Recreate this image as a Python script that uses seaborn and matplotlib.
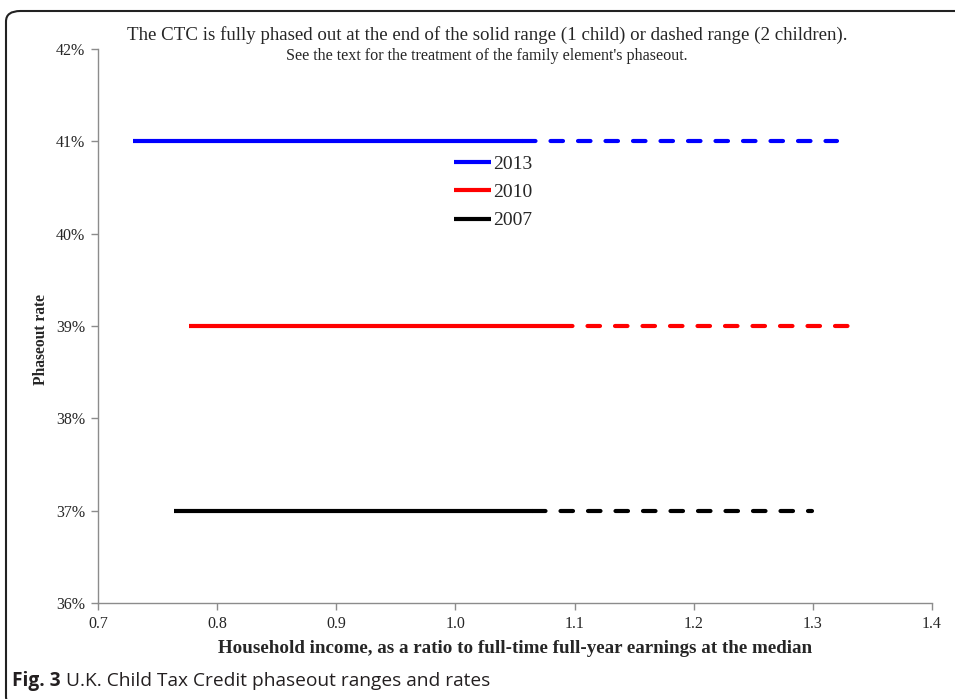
import matplotlib
matplotlib.use("Agg")
import matplotlib.pyplot as plt
import seaborn as sns
import pandas as pd
from matplotlib.patches import FancyBboxPatch
from matplotlib.ticker import PercentFormatter

# phaseout ranges
years = ["2013", "2010", "2007"]
rates = [0.41, 0.39, 0.37]
starts = [0.729, 0.776, 0.764]
one_child_end = [1.057, 1.088, 1.065]
two_children_end = [1.320, 1.330, 1.299]
colors = ["#0000ff", "#ff0000", "#000000"]

x_ticks = [0.7, 0.8, 0.9, 1.0, 1.1, 1.2, 1.3, 1.4]
y_ticks = [0.36, 0.37, 0.38, 0.39, 0.40, 0.41, 0.42]

sns.set_style("white")
plt.rcParams["font.family"] = ["Liberation Serif", "DejaVu Serif"]

fig = plt.figure(figsize=(9.55, 6.99), dpi=100)
ax = fig.add_axes([98 / 955, 1 - 603 / 699, 834 / 955, 554 / 699])

for i, yr in enumerate(years):
    solid = pd.DataFrame({"income": [starts[i], one_child_end[i]],
                          "rate": [rates[i], rates[i]]})
    dashed = pd.DataFrame({"income": [one_child_end[i], two_children_end[i]],
                           "rate": [rates[i], rates[i]]})
    sns.lineplot(data=dashed, x="income", y="rate", ax=ax, color=colors[i],
                 linewidth=3, linestyle=(0, (3.0, 3.6)),
                 dash_capstyle="round", legend=False)
    sns.lineplot(data=solid, x="income", y="rate", ax=ax, color=colors[i],
                 linewidth=3, solid_capstyle="butt", label=yr)

ax.set_xlim(0.7, 1.4)
ax.set_ylim(0.36, 0.42)
ax.set_xticks(x_ticks)
ax.set_yticks(y_ticks)
ax.set_xticklabels([f"{v:.1f}" for v in x_ticks])
ax.yaxis.set_major_formatter(PercentFormatter(1.0, decimals=0))
ax.tick_params(axis="both", direction="out", length=5, width=1,
               color="#8c8c8c", labelsize=11.5, pad=4, left=True, bottom=True)

for side in ["top", "right"]:
    ax.spines[side].set_visible(False)
for side in ["left", "bottom"]:
    ax.spines[side].set_color("#8c8c8c")
    ax.spines[side].set_linewidth(1)

ax.set_xlabel("Household income, as a ratio to full-time full-year earnings at the median",
              fontsize=13.7, fontweight="bold", labelpad=6)
ax.set_ylabel("Phaseout rate", fontsize=11.2, fontweight="bold")
ax.yaxis.set_label_coords(-0.0588, 0.475)

leg = ax.legend(loc="upper left", bbox_to_anchor=(0.4155, 0.826), frameon=False,
                fontsize=14, handlelength=1.9, handletextpad=0.1,
                labelspacing=0.55, borderpad=0)

fig.text(0.51, 1 - 35 / 699,
         "The CTC is fully phased out at the end of the solid range (1 child) or dashed range (2 children).",
         ha="center", va="center", fontsize=13.6)
fig.text(0.51, 1 - 56 / 699,
         "See the text for the treatment of the family element's phaseout.",
         ha="center", va="center", fontsize=11.6)

# frame around the figure panel
frame = FancyBboxPatch((6 / 955, -8 / 699), 1.2, (699 - 11 + 8) / 699,
                       boxstyle="round,pad=0,rounding_size=0.015",
                       transform=fig.transFigure, fill=False,
                       edgecolor="#222222", linewidth=1.5, clip_on=False)
fig.patches.append(frame)

# caption
cap_y = 1 - 681 / 699
fig_lbl = fig.text(12 / 955, cap_y, "Fig. 3", fontsize=13.8, fontweight="bold",
                   family=["Open Sans", "DejaVu Sans"], color="#231f20", va="center")
renderer = fig.canvas.get_renderer()
bb = fig_lbl.get_window_extent(renderer=renderer)
fig.text(bb.x1 / fig.bbox.width + 5 / 955, cap_y,
         "U.K. Child Tax Credit phaseout ranges and rates", fontsize=13.8,
         family=["Open Sans", "DejaVu Sans"], color="#231f20", va="center")

fig.savefig("out.png", dpi=100)
